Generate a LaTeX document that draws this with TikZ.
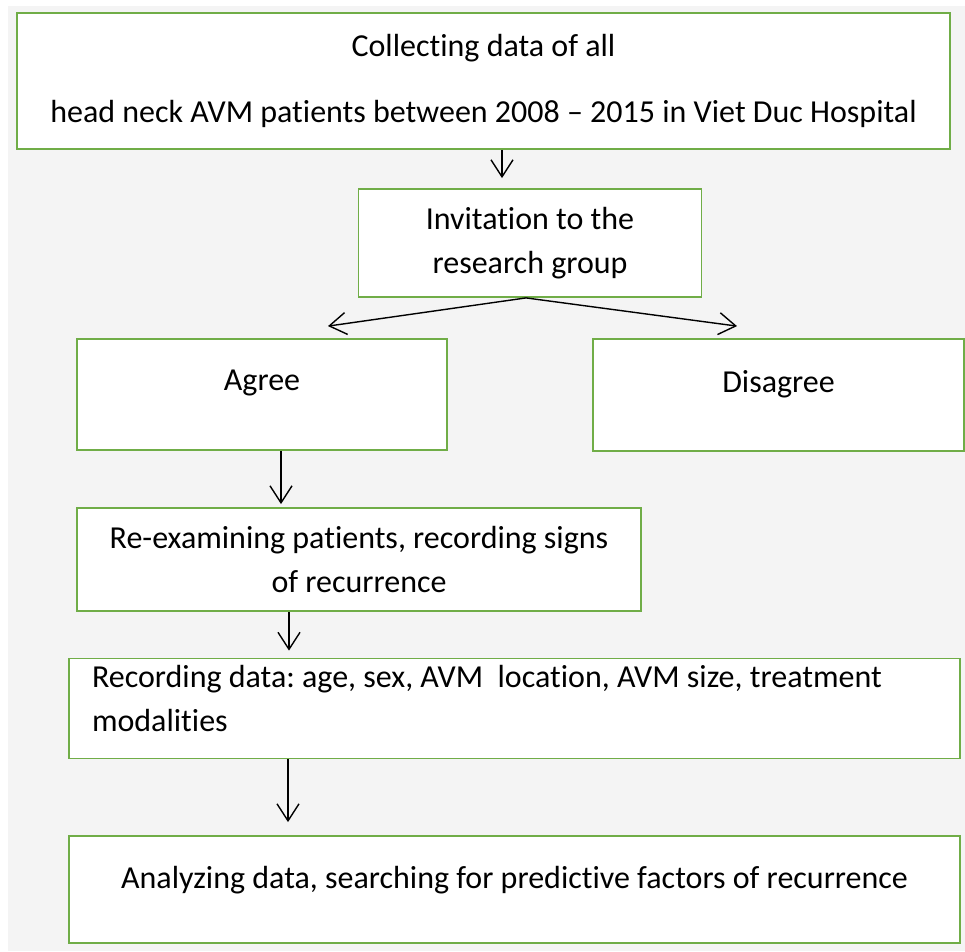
\documentclass[tikz,border=0pt]{standalone}
\usepackage{fontspec}
\setmainfont{Carlito}[Ligatures={TeX,NoCommon}]
\usetikzlibrary{arrows.meta}
\definecolor{boxgreen}{RGB}{112,173,71}
\definecolor{bggray}{RGB}{244,244,244}
\newcommand{\lowstrut}[1]{\rule[-#1]{0pt}{#1}}
\frenchspacing

\begin{document}
\begin{tikzpicture}[
    x=1pt, y=-1pt,
    font=\fontsize{32}{44}\selectfont,
    block/.style={rectangle, draw=boxgreen, fill=white, line width=1.8pt, inner sep=0pt, align=center},
    arrow/.style={-{Straight Barb[length=17pt,width=22pt]}, line width=1.4pt}
]

\useasboundingbox (0,0) rectangle (965,951);
\fill[white] (0,0) rectangle (965,951);
\fill[bggray] (8,6) rectangle (965,951);

\node[block, minimum width=933pt, minimum height=136pt] (collect) at (483.5,81) {Collecting data of all\\[22pt]head neck AVM patients between 2008 -- 2015 in Viet Duc Hospital};
\node[block, minimum width=343pt, minimum height=108pt] (invite) at (530,243) {Invitation to the\\research group};
\node[block, minimum width=370pt, minimum height=111pt] (agree) at (262,394.5) {Agree\lowstrut{28pt}};
\node[block, minimum width=371pt, minimum height=112pt] (disagree) at (778.5,395) {Disagree\lowstrut{28pt}};
\node[block, minimum width=564pt, minimum height=103pt] (reexam) at (359,559.5) {Re-examining patients, recording signs\\of recurrence};
\node[block, align=flush left, text width=845pt, minimum width=891pt, minimum height=100pt] (record) at (514.5,708.5) {Recording data: age, sex, AVM~ location, AVM size, treatment\\modalities\lowstrut{21pt}};
\node[block, minimum width=891pt, minimum height=107pt] (analyze) at (514.5,889.5) {Analyzing data, searching for predictive factors of recurrence\lowstrut{25pt}};

\draw[arrow, shorten >=10pt] ([xshift=18.5pt]collect.south) -- ([xshift=-28pt]invite.north);
\draw[arrow] ([xshift=-4pt]invite.south) -- ([xshift=66pt,yshift=12pt]agree.north);
\draw[arrow] ([xshift=-4pt]invite.south) -- ([xshift=-41.5pt,yshift=12pt]disagree.north);
\draw[arrow, shorten >=3pt] ([xshift=19pt]agree.south) -- ([xshift=-78pt]reexam.north);
\draw[arrow, shorten >=7pt] ([xshift=-70pt]reexam.south) -- ([xshift=-225.5pt]record.north);
\draw[arrow, shorten >=13pt] ([xshift=-226.5pt]record.south) -- ([xshift=-226.5pt]analyze.north);

\end{tikzpicture}
\end{document}
